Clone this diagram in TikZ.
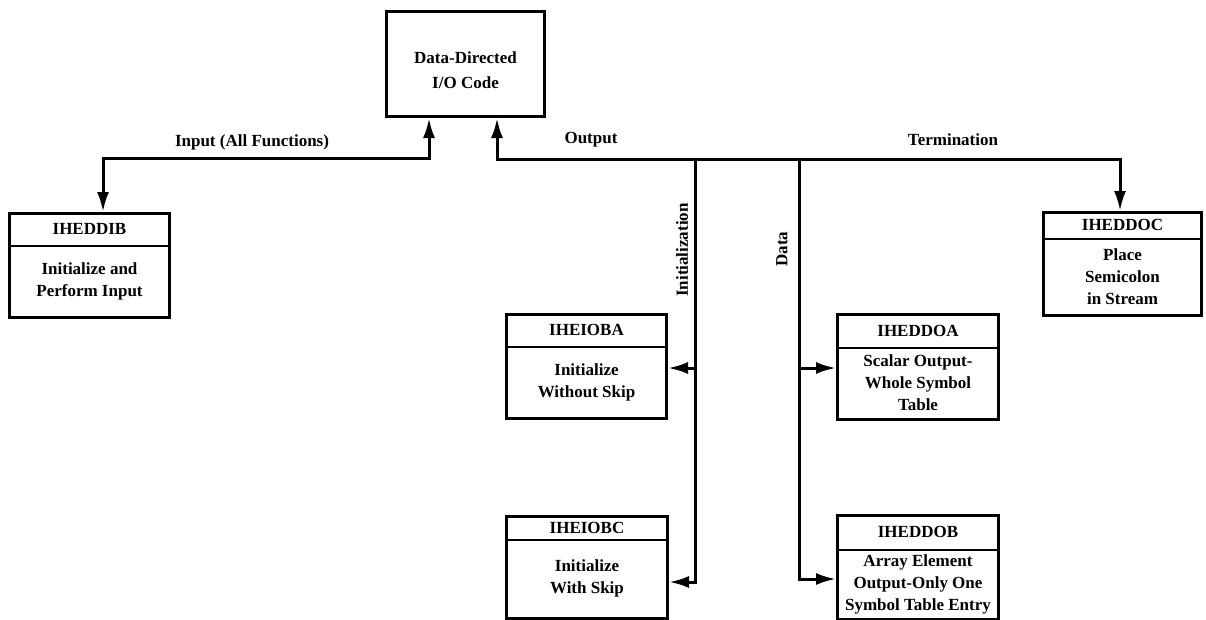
\documentclass[tikz,border=0pt]{standalone}
\usepackage{fontspec}
\setmainfont{Liberation Serif}
\usetikzlibrary{arrows.meta,calc}

\tikzset{
  frame/.style={draw, line width=3pt, rectangle, inner sep=0pt},
  divider/.style={line width=2.2pt},
  conn/.style={line width=3pt, line join=miter},
  head/.tip={Latex[length=20pt,width=12pt]},
  tip/.style={-head},
  bothtips/.style={head-head},
  txt/.style={font=\fontsize{17}{22}\selectfont\bfseries, align=center, inner sep=0pt},
  lbl/.style={font=\fontsize{17}{22}\selectfont\bfseries, inner sep=0pt},
}

% #1 name, #2 left, #3 top, #4 width, #5 height, #6 header height, #7 title, #8 body
\newcommand\modbox[8]{%
  \node[frame, minimum width=#4pt, minimum height=#5pt, anchor=north west] (#1) at (#2,#3) {};
  \draw[divider] ($(#1.north west)+(0,#6)$) -- ($(#1.north east)+(0,#6)$);
  \node[txt] (#1-title) at ($(#1.north)+(0,#6/2)$) {#7};
  \node[txt] (#1-body) at ($(#1.north)+(0,#6/2+#5/2)$) {#8};
}

\begin{document}
\begin{tikzpicture}[x=1pt,y=-1pt]
\useasboundingbox (0,0) rectangle (1206,619);

% central routine
\node[frame, minimum width=158pt, minimum height=105pt, anchor=north west] (main) at (385,10) {};
\node[txt, font=\fontsize{17}{25}\selectfont\bfseries] (main-text) at ($(main.center)+(0,6)$) {Data-Directed\\I/O Code};

% called modules
\modbox{ddib}{8}{212}{160}{104}{34}{IHEDDIB}{Initialize and\\Perform Input}
\modbox{ddoc}{1042}{211}{158}{103}{28}{IHEDDOC}{Place\\Semicolon\\in Stream}
\modbox{ioba}{505}{313}{160}{104}{34}{IHEIOBA}{Initialize\\Without Skip}
\modbox{ddoa}{836}{313}{161}{105}{35}{IHEDDOA}{Scalar Output-\\Whole Symbol\\Table}
\modbox{iobc}{505}{515}{161}{102}{25}{IHEIOBC}{Initialize\\With Skip}
\modbox{ddob}{836}{514}{161}{104}{36}{IHEDDOB}{Array Element\\Output-Only One\\Symbol Table Entry}

% routing points
\coordinate (inbus) at (429,158);
\coordinate (inleft) at (103,158);
\coordinate (outbus) at (497,159);
\coordinate (outright) at (1120,159);
\coordinate (initbus) at (695,159);
\coordinate (databus) at (799,159);

% input path
\draw[conn, bothtips]
  (main.south -| inbus) -- (inbus) -- (inleft) -- (ddib.north -| inleft);

% output and termination path
\draw[conn, bothtips]
  (main.south -| outbus) -- (outbus) -- (outright) -- (ddoc.north -| outright);

% initialization branch
\draw[conn, tip] (initbus) |- (iobc.east |- 0,582);
\draw[conn, tip] (initbus |- 0,368) -- (ioba.east |- 0,368);

% data branch
\draw[conn, tip] (databus) |- (ddob.west |- 0,579);
\draw[conn, tip] (databus |- 0,368) -- (ddoa.west |- 0,368);

% path labels
\node[lbl] (l-input) at (252,142) {Input (All Functions)};
\node[lbl] (l-output) at (591,140) {Output};
\node[lbl] (l-term) at (953,140) {Termination};
\node[lbl, rotate=90] (l-init) at (682,250) {Initialization};
\node[lbl, rotate=90] (l-data) at (782,249) {Data};
\end{tikzpicture}
\end{document}
